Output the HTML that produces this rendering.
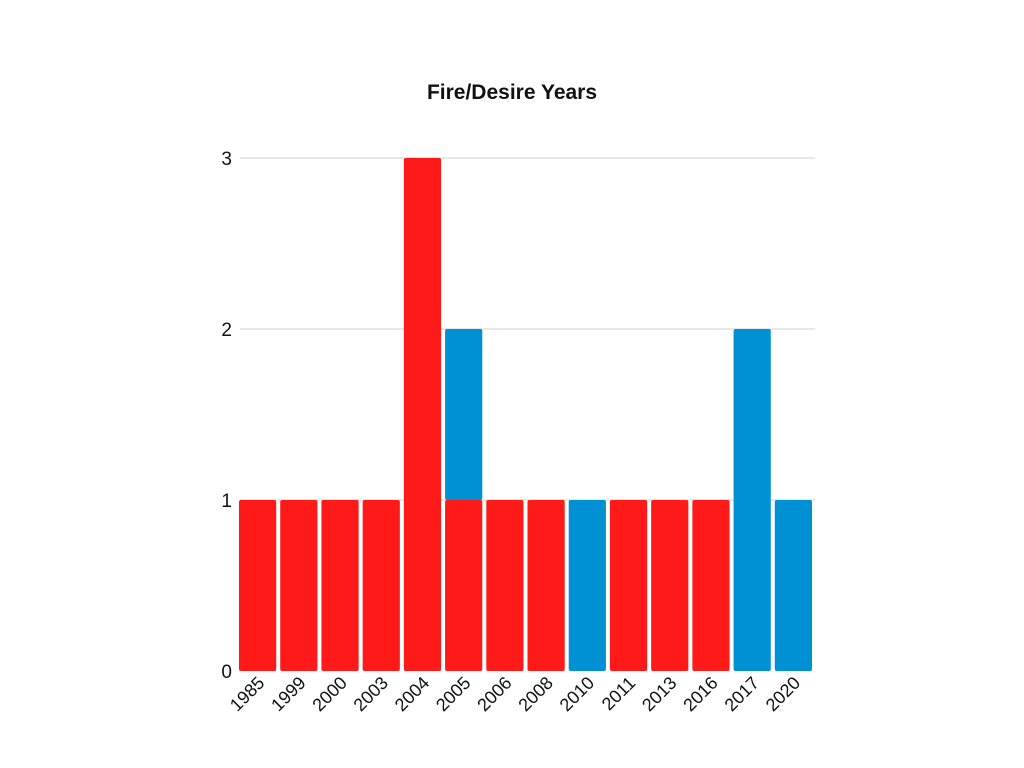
<!DOCTYPE html>
<html><head><meta charset="utf-8"><style>
body{margin:0;background:#fff;}
svg{display:block;font-family:"Liberation Sans",sans-serif;}
</style></head><body>
<svg width="1024" height="768">
<text x="512" y="99" text-anchor="middle" font-size="21" font-weight="bold" fill="#111">Fire/Desire Years</text>
<g id="grid"></g><g id="bars"></g><g id="xlabels"></g>
</svg>
<script>
const categories=["1985","1999","2000","2003","2004","2005","2006","2008","2010","2011","2013","2016","2017","2020"];
const fireValues=[1,1,1,1,3,1,1,1,0,1,1,1,0,0];
const desireValues=[0,0,0,0,0,1,0,0,1,0,0,0,2,1];
const yTicks=[0,1,2,3];
const NS="http://www.w3.org/2000/svg";
const x0=238,x1=815,y0=671,yTop=158,yMax=3;
const band=(x1-x0)/categories.length;
const y=v=>y0-(v/yMax)*(y0-yTop);
const grid=document.getElementById('grid'),bars=document.getElementById('bars'),xl=document.getElementById('xlabels');
yTicks.forEach(t=>{
 if(t>0){const l=document.createElementNS(NS,'line');
 l.setAttribute('x1',x0+2);l.setAttribute('x2',x1);l.setAttribute('y1',y(t));l.setAttribute('y2',y(t));
 l.setAttribute('stroke','#d0d0d0');l.setAttribute('stroke-width','1');
 
 
 grid.appendChild(l);}
 const tx=document.createElementNS(NS,'text');
 tx.setAttribute('x',232);tx.setAttribute('y',y(t)+7);tx.setAttribute('text-anchor','end');
 tx.setAttribute('font-size','19');tx.setAttribute('fill','#111');tx.textContent=t;
 
 
 grid.appendChild(tx);
});
function bar(xp,v0,v1,color,name){
 if(v1<=v0)return;
 const r=document.createElementNS(NS,'rect');
 r.setAttribute('x',xp);r.setAttribute('width',band-4);
 r.setAttribute('y',y(v1));r.setAttribute('height',y(v0)-y(v1));
 r.setAttribute('fill',color);r.setAttribute('rx','2');
 
 
 bars.appendChild(r);
}
categories.forEach((c,i)=>{
 const xp=x0+i*band+1;
 bar(xp,0,fireValues[i],'#ff1a1a','bar-fire-'+c);
 bar(xp,fireValues[i],fireValues[i]+desireValues[i],'#0091d5','bar-desire-'+c);
 const cx=xp+(band-4)/2+8;
 const t=document.createElementNS(NS,'text');
 t.setAttribute('x',cx);t.setAttribute('y',684);t.setAttribute('text-anchor','end');
 t.setAttribute('font-size','18');t.setAttribute('fill','#111');
 t.setAttribute('transform','rotate(-45 '+cx+' 684)');t.textContent=c;
 
 
 xl.appendChild(t);
});
</script>
</body></html>
